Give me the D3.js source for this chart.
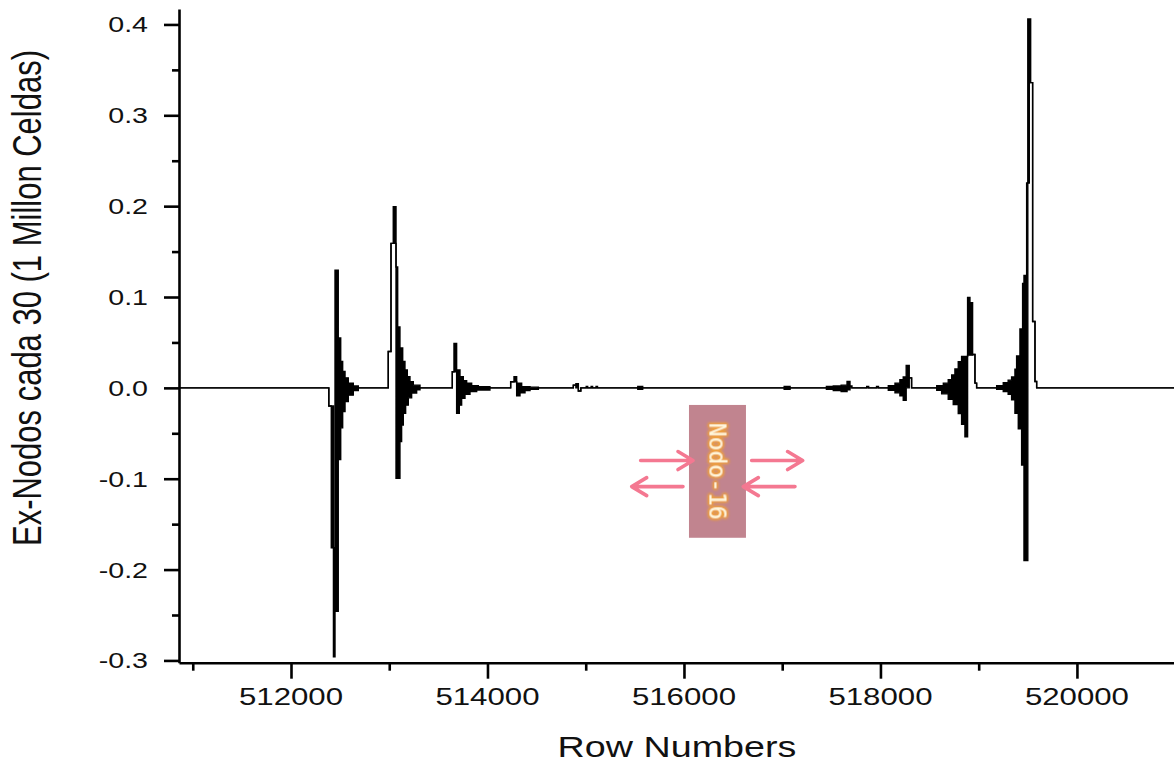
<!DOCTYPE html>
<html><head><meta charset="utf-8">
<script src="https://cdn.jsdelivr.net/npm/d3@7"></script>
<style>html,body{margin:0;padding:0;background:#fff;overflow:hidden} svg{display:block}</style>
</head><body>
<svg id="chart" width="1174" height="763"></svg>
<script>
// Envelope of the signal (max / min per stretch of rows)
const rowNumbers = [510860,
 512385,512410,512432,512448,512481,512506,512526,512550,512583,512634,512685,
 512990,513018,513041,513069,513086,513109,513126,513137,513143,513160,513167,513184,513194,513211,513228,513245,513279,513313,
 513642,513659,513686,513713,513720,513737,513754,513771,513788,513822,513839,513890,513907,514025,
 514236,514270,514297,514331,514348,514382,514433,514518,
 514874,514900,514925,514950,515005,515020,515055,515070,515105,515120,
 515530,515580,517020,517080,
 517450,517520,517600,517660,517690,517710,517860,517880,517960,517980,
 518080,518148,518198,518232,518262,518293,518317,
 518573,518623,518640,518690,518725,518741,518758,518792,518826,518860,518887,518911,518938,518962,518979,
 519183,519250,519300,519335,519369,519386,519403,519420,519437,519447,519461,519488,519500,519515,519529,519549,519573,519590,
 521100];
const upperValues = [0,
 -0.02,-0.02,-0.176,0.1295,0.055,0.029,0.018,0.011,0.005,0.002,0,
 0.04,0.159,0.1995,0.133,0.067,0.044,0.044,0.029,0.029,0.0197,0.0197,0.0123,0.0123,0.0068,0.0068,0.003,0.003,0,
 0.0178,0.049,0.0197,0.0197,0.0123,0.0123,0.008,0.008,0.005,0.005,0.0024,0.0024,0.0013,0,
 0.0068,0.0123,0.005,0.005,0.0013,0.0013,0.0008,0,
 0.003,0.0045,-0.0034,0,0.0015,0,0.0015,0,0.0015,0,
 0.0015,0,0.0015,0,
 0.0015,0.002,0.003,0.007,0.002,0,0.0015,0,0.0015,0,
 0.0024,0.0052,0.0091,0.0119,0.0248,0.011,0,
 0.0024,0.0024,0.0052,0.0091,0.0142,0.0142,0.0209,0.0287,0.0347,0.0347,0.0995,0.0936,0.0367,0.0052,0,
 0.0024,0.0057,0.0085,0.012,0.0205,0.035,0.035,0.0648,0.0648,0.115,0.1237,0.2255,0.406,0.406,0.336,0.073,0.007,0,
 0];
const lowerValues = [0,
 -0.02,-0.176,-0.296,-0.246,-0.079,-0.044,-0.026,-0.015,-0.008,-0.003,0,
 0.04,0.159,0.159,-0.0995,-0.0995,-0.059,-0.041,-0.041,-0.028,-0.028,-0.019,-0.019,-0.011,-0.011,-0.0056,-0.0056,-0.002,0,
 0.0178,0.0178,-0.028,-0.019,-0.019,-0.0115,-0.0115,-0.007,-0.007,-0.004,-0.004,-0.0023,-0.0023,0,
 0.0068,0.0068,-0.0086,-0.0053,-0.0053,-0.003,-0.0015,0,
 0.003,0,-0.0034,0,0,0,0,0,0,0,
 -0.0015,0,-0.0015,0,
 -0.0015,-0.003,-0.004,-0.002,0,0,0,0,0,0,
 -0.0027,-0.0055,-0.0086,-0.0137,0,0.011,0,
 -0.0027,-0.0066,-0.0066,-0.0125,-0.0125,-0.0184,-0.0184,-0.0283,-0.04,-0.0538,0.036,0.036,0.0367,0.0052,0,
 -0.0015,-0.004,-0.007,-0.013,-0.028,-0.028,-0.045,-0.045,-0.085,-0.085,-0.19,-0.19,0.2255,0.336,0.336,0.073,0.007,0,
 0];

const xTickValues = [512000, 514000, 516000, 518000, 520000];
const xMinorTicks = [511000, 513000, 515000, 517000, 519000, 521000];
const yTickValues = [-0.3, -0.2, -0.1, 0.0, 0.1, 0.2, 0.3, 0.4];
const yMinorTicks = [-0.25, -0.15, -0.05, 0.05, 0.15, 0.25, 0.35];
const xTitle = "Row Numbers";
const yTitle = "Ex-Nodos cada 30 (1 Millon Celdas)";
const noteLabel = "Nodo-16";
// annotation placement in data units (row, value)
const noteBox = {r0: 516051, r1: 516631, v0: -0.0188, v1: -0.165};
const noteArrows = [
  {from: 515559, to: 516092, v: -0.080},
  {from: 515990, to: 515468, v: -0.1087},
  {from: 516689, to: 517208, v: -0.080},
  {from: 517130, to: 516604, v: -0.1087}
];

const svg = d3.select('#chart');
const W = 1174, H = 763;
const x = d3.scaleLinear().domain([510860, 521100]).range([179, 1185]);
const y = d3.scaleLinear().domain([-0.3025, 0.417]).range([662.7, 9]);
const SX = 1.3; // horizontal stretch of the original picture's text
const font = "'Liberation Sans', Arial, Helvetica, sans-serif";
const ink = '#111';

// glow filter for the annotation text
const defs = svg.append('defs');
const f = defs.append('filter').attr('id','glow').attr('x','-50%').attr('y','-50%').attr('width','200%').attr('height','200%');
f.append('feMorphology').attr('in','SourceAlpha').attr('operator','dilate').attr('radius',1.2).attr('result','d');
f.append('feGaussianBlur').attr('in','d').attr('stdDeviation',1.4).attr('result','b');
f.append('feFlood').attr('flood-color','#f0a13a').attr('result','c');
f.append('feComposite').attr('in','c').attr('in2','b').attr('operator','in').attr('result','g');
const m = f.append('feMerge');
m.append('feMergeNode').attr('in','g');
m.append('feMergeNode').attr('in','g');
m.append('feMergeNode').attr('in','SourceGraphic');

// data
const data = rowNumbers.map((r,i)=>({r, hi: upperValues[i], lo: lowerValues[i]}));
const area = d3.area().x(d=>x(d.r)).y0(d=>y(d.lo)).y1(d=>y(d.hi)).curve(d3.curveStepAfter);
const lineHi = d3.line().x(d=>x(d.r)).y(d=>y(d.hi)).curve(d3.curveStepAfter);
const lineLo = d3.line().x(d=>x(d.r)).y(d=>y(d.lo)).curve(d3.curveStepAfter);
const plot = svg.append('g');
plot.append('path').attr('d', area(data)).attr('fill','#000');
plot.append('path').attr('d', lineHi(data)).attr('fill','none').attr('stroke','#000').attr('stroke-width',1.4);
plot.append('path').attr('d', lineLo(data)).attr('fill','none').attr('stroke','#000').attr('stroke-width',1.4);

// axes
const yAxis = svg.append('g').attr('transform',`translate(${x.range()[0]},0)`)
  .call(d3.axisLeft(y).tickValues(yTickValues).tickSize(15).tickSizeOuter(0).tickFormat(''));
const yMinor = svg.append('g').attr('transform',`translate(${x.range()[0]},0)`)
  .call(d3.axisLeft(y).tickValues(yMinorTicks).tickSize(7).tickSizeOuter(0).tickFormat(''));
yMinor.select('.domain').remove();
const xAxis = svg.append('g').attr('transform',`translate(0,${y.range()[0]})`)
  .call(d3.axisBottom(x).tickValues(xTickValues).tickSize(16).tickSizeOuter(0).tickFormat(''));
const xMinor = svg.append('g').attr('transform',`translate(0,${y.range()[0]})`)
  .call(d3.axisBottom(x).tickValues(xMinorTicks).tickSize(8).tickSizeOuter(0).tickFormat(''));
xMinor.select('.domain').remove();
svg.selectAll('.domain, .tick line').attr('stroke','#000').attr('stroke-width',2.6);

// tick labels
svg.append('g').selectAll('text').data(yTickValues).join('text')
  .attr('transform', d=>`translate(148,${y(d)+8}) scale(${SX},1)`)
  .attr('text-anchor','end').attr('font-family',font).attr('font-size',22).attr('fill',ink)
  .text(d=>d.toFixed(1));
svg.append('g').selectAll('text').data(xTickValues).join('text')
  .attr('transform', d=>`translate(${x(d)},705) scale(${SX},1)`)
  .attr('text-anchor','middle').attr('font-family',font).attr('font-size',24).attr('fill',ink)
  .text(d=>String(d));

// titles
svg.append('text').attr('transform',`translate(677,757) scale(${SX},1)`)
  .attr('text-anchor','middle').attr('font-family',font).attr('font-size',29).attr('fill',ink).text(xTitle);
svg.append('text').attr('transform',`translate(41,298) scale(${SX},1) rotate(-90)`)
  .attr('text-anchor','middle').attr('font-family',font).attr('font-size',31).attr('fill',ink).text(yTitle);

// annotation
const ann = svg.append('g');
ann.append('rect').attr('x', x(noteBox.r0)).attr('y', y(noteBox.v0))
  .attr('width', x(noteBox.r1)-x(noteBox.r0)).attr('height', y(noteBox.v1)-y(noteBox.v0))
  .attr('fill','#c1848f');
const cx = (x(noteBox.r0)+x(noteBox.r1))/2, cy = (y(noteBox.v0)+y(noteBox.v1))/2;
ann.append('text').attr('transform',`translate(${cx},${cy}) rotate(90)`)
  .attr('text-anchor','middle').attr('dy','0.36em')
  .attr('font-family',"'DejaVu Sans Mono', monospace").attr('font-size',23)
  .attr('fill','#fff8dc').attr('filter','url(#glow)').text(noteLabel);
noteArrows.forEach(a=>{
  const x0 = x(a.from), x1 = x(a.to), yy = y(a.v);
  const dir = Math.sign(x1-x0);
  const p = d3.path();
  p.moveTo(x0, yy); p.lineTo(x1, yy);
  p.moveTo(x1-dir*15, yy-9); p.lineTo(x1, yy); p.lineTo(x1-dir*15, yy+9);
  ann.append('path').attr('d', p.toString()).attr('fill','none')
    .attr('stroke','#f47891').attr('stroke-width',3.6).attr('stroke-linecap','round').attr('stroke-linejoin','round');
});
</script>
</body></html>
